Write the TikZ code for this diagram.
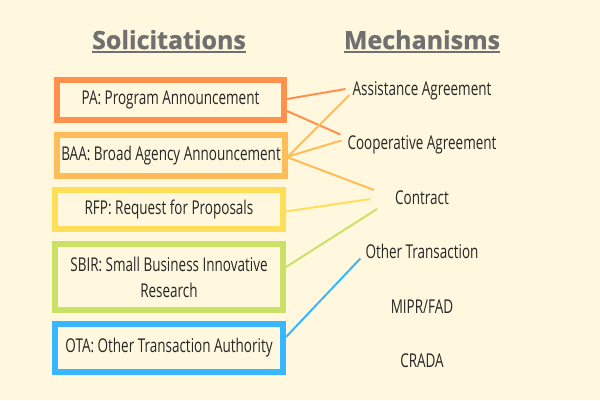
\documentclass[tikz,border=0pt]{standalone}
\usepackage{fontspec}
\setmainfont[FakeStretch=0.71]{Open Sans}
\newfontfamily\titlefont[FakeBold=1]{Open Sans}
\definecolor{cream}{RGB}{255,248,222}
\definecolor{ink}{RGB}{38,38,38}
\definecolor{titlegray}{RGB}{112,112,112}
\definecolor{paorange}{HTML}{FF914D}
\definecolor{baaorange}{HTML}{FFBD59}
\definecolor{rfpyellow}{HTML}{FFDE59}
\definecolor{sbirgreen}{HTML}{C9E265}
\definecolor{otablue}{HTML}{38B6FF}
\begin{document}
\begin{tikzpicture}[x=1pt,y=-1pt,
  box/.style={draw=#1,line width=6pt,inner sep=0pt,text=ink,align=center,
    font=\fontsize{19}{26}\selectfont},
  mech/.style={anchor=base,inner sep=6pt,text=ink,font=\fontsize{19}{22}\selectfont},
  heading/.style={anchor=base,inner sep=0pt,text=titlegray,font=\titlefont\bfseries\fontsize{25}{30}\selectfont},
  link/.style={line width=2pt}]
\fill[cream] (0,0) rectangle (600,400);
% titles
\node[heading] (soltitle) at (169,49) {Solicitations};
\node[heading] (mechtitle) at (422,49) {Mechanisms};
\draw[titlegray,line width=2pt] ([yshift=-3pt]soltitle.base west) -- ([yshift=-3pt]soltitle.base east);
\draw[titlegray,line width=2pt] ([yshift=-3pt]mechtitle.base west) -- ([yshift=-3pt]mechtitle.base east);
% solicitations
\node[box=paorange,minimum width=227,minimum height=40] (pa) at (170.5,100) {PA: Program Announcement};
\node[box=baaorange,minimum width=228,minimum height=41] (baa) at (171,155.5) {BAA: Broad Agency Announcement};
\node[box=rfpyellow,minimum width=228,minimum height=39] (rfp) at (169,209.5) {RFP: Request for Proposals};
\node[box=sbirgreen,minimum width=228,minimum height=66] (sbir) at (169,277) {SBIR: Small Business Innovative\\Research};
\node[box=otablue,minimum width=228,minimum height=48] (ota) at (169,348) {OTA: Other Transaction Authority};
% mechanisms
\node[mech] (assist) at (422,95) {Assistance Agreement};
\node[mech] (coop) at (422,149.5) {Cooperative Agreement};
\node[mech] (contract) at (422,204) {Contract};
\node[mech] (other) at (422,258.5) {Other Transaction};
\node[mech] (mipr) at (422,313) {MIPR/FAD};
\node[mech] (crada) at (422,367.5) {CRADA};
% links
\draw[link,paorange] ([shift={(0,-1)}]pa.east) -- ([shift={(-1,-6)}]assist.base west);
\draw[link,paorange] ([shift={(0,11)}]pa.east) -- ([shift={(-1,-15)}]coop.base west);
\draw[link,baaorange] ([shift={(0,1)}]baa.east) -- ([shift={(3,0)}]assist.base west);
\draw[link,baaorange] ([shift={(0,1)}]baa.east) -- ([shift={(0,-9)}]coop.base west);
\draw[link,baaorange] ([shift={(0,2)}]baa.east) -- ([shift={(-15,-14)}]contract.base west);
\draw[link,rfpyellow] ([shift={(0,2)}]rfp.east) -- ([shift={(-19,-5)}]contract.base west);
\draw[link,sbirgreen] ([shift={(0,-10)}]sbir.east) -- ([shift={(-12,5)}]contract.base west);
\draw[link,otablue] ([shift={(0,-11)}]ota.east) -- ([shift={(1,0)}]other.base west);
\end{tikzpicture}
\end{document}
